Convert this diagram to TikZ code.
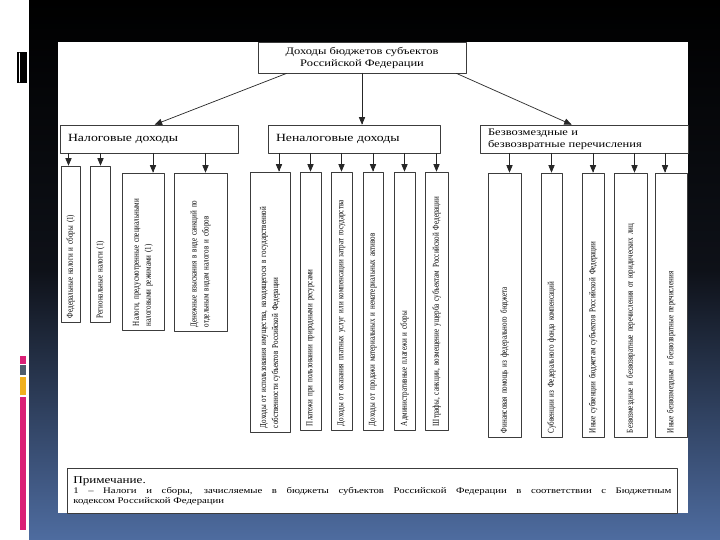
\documentclass[tikz,border=0pt]{standalone}
\usepackage{fontspec}
\setmainfont{Liberation Serif}
\newfontfamily\widefont[FakeStretch=1.25,Ligatures=TeX]{Liberation Serif}
\newfontfamily\narrowfont[FakeStretch=0.78,Ligatures=TeX]{Liberation Serif}
\usetikzlibrary{arrows,positioning}

\definecolor{rosa}{RGB}{218,32,118}
\definecolor{ardesia}{RGB}{78,92,108}
\definecolor{arancio}{RGB}{240,176,30}
\definecolor{blufondo}{RGB}{78,108,160}
\definecolor{tratto}{RGB}{60,60,60}

\tikzset{
  box/.style={draw=tratto, line width=0.7pt, fill=white, inner xsep=8pt, inner ysep=2pt},
  col/.style={draw=tratto, line width=0.7pt, fill=white, rotate=90, align=left,
    inner xsep=4pt, inner ysep=1pt, font=\narrowfont\fontsize{9}{12}\selectfont},
  arr/.style={->, draw=black!85, line width=0.7pt}
}

\begin{document}
\begin{tikzpicture}[line cap=round,line join=round,>=triangle 45,x=1pt,y=-1pt]
\useasboundingbox (0,0) rectangle (720,540);
% sfondo della diapositiva
\fill[white] (0,0) rectangle (29,540);
\shade[top color=black, bottom color=blufondo, middle color={rgb,255:red,14;green,17;blue,24}] (29,0) rectangle (720,540);
\fill[black] (17,52) rectangle (27,83);
\draw[white, line width=0.8pt] (19,53) -- (19,82);
\fill[rosa] (20,356) rectangle (26,364);
\fill[ardesia] (20,365) rectangle (26,375);
\fill[arancio] (20,377) rectangle (26,395);
\fill[rosa] (20,397) rectangle (26,530);
\fill[white] (58,42) rectangle (688,513);

% livello 1
\node[box, minimum width=208pt, minimum height=31pt, align=center,
  font=\widefont\fontsize{10}{12}\selectfont] (doh) at (362,57.5)
  {Доходы бюджетов субъектов\\Российской Федерации};

% livello 2
\node[box, minimum width=178pt, minimum height=28pt, text width=162pt, align=left,
  font=\widefont\fontsize{11}{12}\selectfont] (nal) at (149,139) {Налоговые доходы};
\node[box, minimum width=172pt, minimum height=28pt, text width=156pt, align=left,
  font=\widefont\fontsize{11}{12}\selectfont] (nenal) at (354,139) {Неналоговые доходы};
\node[box, minimum width=208pt, minimum height=28pt, text width=192pt, align=left,
  font=\widefont\fontsize{10}{12}\selectfont] (bezv) at (584,139)
  {Безвозмездные и\\безвозвратные перечисления};

\draw[arr] ([xshift=29pt]doh.south west) -- ([xshift=95pt]nal.north west);
\draw[arr] (doh.south) -- (doh.south |- nenal.north);
\draw[arr] ([xshift=-10pt]doh.south east) -- ([xshift=92pt]bezv.north west);

% colonne: налоговые
\node[col, minimum width=156pt, text width=148pt, minimum height=19pt] (n1) at (70.5,244)
  {Федеральные налоги и сборы (1)};
\node[col, minimum width=156pt, text width=148pt, minimum height=20pt] (n2) at (100.5,244)
  {Региональные налоги (1)};
\node[col, minimum width=157pt, text width=149pt, minimum height=42pt] (n3) at (143,251.5)
  {Налоги, предусмотренные специальными\\налоговыми режимами (1)};
\node[col, minimum width=158pt, text width=150pt, minimum height=53pt] (n4) at (200.5,252)
  {Денежные взыскания в виде санкций по\\отдельным видам налогов и сборов};

% colonne: неналоговые
\node[col, minimum width=260pt, text width=252pt, minimum height=40pt] (m1) at (270,302)
  {Доходы от использования имущества, находящегося в государственной\\собственности субъектов Российской Федерации};
\node[col, minimum width=258pt, text width=250pt, minimum height=21pt] (m2) at (310.5,301)
  {Платежи при пользовании природными ресурсами};
\node[col, minimum width=258pt, text width=250pt, minimum height=21pt] (m3) at (341.5,301)
  {Доходы от оказания платных услуг или компенсации затрат государства};
\node[col, minimum width=258pt, text width=250pt, minimum height=20pt] (m4) at (373,301)
  {Доходы от продажи материальных и нематериальных активов};
\node[col, minimum width=258pt, text width=250pt, minimum height=21pt] (m5) at (404.5,301)
  {Административные платежи и сборы};
\node[col, minimum width=258pt, text width=250pt, minimum height=23pt] (m6) at (436.5,301)
  {Штрафы, санкции, возмещение ущерба субъектам Российской Федерации};

% colonne: безвозмездные
\node[col, minimum width=264pt, text width=256pt, minimum height=33pt] (b1) at (504.5,305)
  {Финансовая помощь из федерального бюджета};
\node[col, minimum width=264pt, text width=256pt, minimum height=21pt] (b2) at (551.5,305)
  {Субвенции из Федерального фонда компенсаций};
\node[col, minimum width=264pt, text width=256pt, minimum height=22pt] (b3) at (593,305)
  {Иные субвенции бюджетам субъектов Российской Федерации};
\node[col, minimum width=264pt, text width=256pt, minimum height=33pt] (b4) at (630.5,305)
  {Безвозмездные и безвозвратные перечисления от юридических лиц};
\node[col, minimum width=264pt, text width=256pt, minimum height=32pt] (b5) at (671,305)
  {Иные безвозмездные и безвозвратные перечисления};

% frecce verso le colonne
\draw[arr] ([xshift=-2pt]n1.east |- nal.south) -- ([xshift=-2pt]n1.east);
\draw[arr] (n2.east |- nal.south) -- (n2.east);
\draw[arr] ([xshift=10pt]n3.east |- nal.south) -- ([xshift=10pt]n3.east);
\draw[arr] ([xshift=5pt]n4.east |- nal.south) -- ([xshift=5pt]n4.east);
\draw[arr] ([xshift=9pt]m1.east |- nenal.south) -- ([xshift=9pt]m1.east);
\draw[arr] (m2.east |- nenal.south) -- (m2.east);
\draw[arr] (m3.east |- nenal.south) -- (m3.east);
\draw[arr] (m4.east |- nenal.south) -- (m4.east);
\draw[arr] (m5.east |- nenal.south) -- (m5.east);
\draw[arr] (m6.east |- nenal.south) -- (m6.east);
\draw[arr] ([xshift=5pt]b1.east |- bezv.south) -- ([xshift=5pt]b1.east);
\draw[arr] (b2.east |- bezv.south) -- (b2.east);
\draw[arr] (b3.east |- bezv.south) -- (b3.east);
\draw[arr] ([xshift=4pt]b4.east |- bezv.south) -- ([xshift=4pt]b4.east);
\draw[arr] ([xshift=-6pt]b5.east |- bezv.south) -- ([xshift=-6pt]b5.east);

% nota
\node[box, anchor=north west, minimum width=610pt, minimum height=45pt, text width=598pt,
  inner xsep=6pt, align=justify, font=\widefont\fontsize{8.6}{9.5}\selectfont] (nota) at (67,468)
  {{\fontsize{10.5}{12}\selectfont Примечание.}\\[1pt]
   1 – Налоги и сборы, зачисляемые в бюджеты субъектов Российской Федерации в соответствии с Бюджетным\linebreak
   кодексом Российской Федерации};
\end{tikzpicture}
\end{document}
